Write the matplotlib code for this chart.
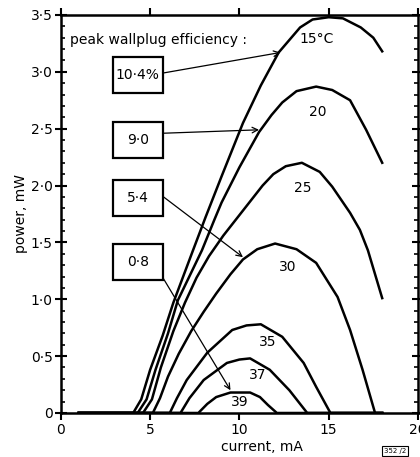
import matplotlib.pyplot as plt
from matplotlib.patches import Rectangle
from matplotlib.ticker import FixedLocator, FixedFormatter, MultipleLocator

# curves: current (mA) vs optical power (mW) at each heat-sink temperature
i15 = [1.0, 4.05, 4.5, 5.0, 5.7, 6.3, 7.4, 8.1, 9.0, 10.2, 11.2, 12.2, 13.4, 14.1, 15.0, 15.8, 16.8, 17.5, 18.0]
p15 = [0.0, 0.0, 0.12, 0.38, 0.68, 0.97, 1.43, 1.72, 2.08, 2.55, 2.88, 3.17, 3.39, 3.46, 3.48, 3.47, 3.39, 3.30, 3.18]

i20 = [1.0, 4.3, 4.8, 5.3, 6.0, 6.55, 7.9, 8.6, 9.0, 10.0, 11.1, 11.8, 12.4, 13.2, 14.3, 15.2, 16.2, 17.1, 18.0]
p20 = [0.0, 0.0, 0.12, 0.38, 0.70, 0.99, 1.43, 1.70, 1.85, 2.16, 2.47, 2.62, 2.73, 2.83, 2.87, 2.84, 2.75, 2.49, 2.20]

i25 = [1.0, 4.6, 5.1, 5.6, 6.3, 6.95, 7.6, 8.3, 9.1, 9.9, 10.6, 11.3, 11.9, 12.6, 13.5, 14.5, 15.2, 16.2, 16.75, 17.2, 18.0]
p25 = [0.0, 0.0, 0.12, 0.40, 0.72, 0.97, 1.19, 1.38, 1.56, 1.72, 1.86, 2.00, 2.10, 2.17, 2.20, 2.12, 1.99, 1.76, 1.61, 1.43, 1.01]

i30 = [1.0, 5.15, 5.55, 6.0, 6.6, 7.3, 8.0, 8.7, 9.5, 10.2, 11.0, 12.0, 13.2, 14.3, 15.5, 16.2, 16.9, 17.6, 18.0]
p30 = [0.0, 0.0, 0.13, 0.32, 0.52, 0.72, 0.89, 1.05, 1.22, 1.35, 1.44, 1.49, 1.44, 1.32, 1.02, 0.73, 0.38, 0.0, 0.0]

i35 = [1.0, 6.1, 6.5, 7.05, 8.2, 9.6, 10.4, 11.2, 12.4, 13.6, 14.3, 15.1, 18.0]
p35 = [0.0, 0.0, 0.13, 0.29, 0.53, 0.73, 0.77, 0.78, 0.67, 0.44, 0.23, 0.0, 0.0]

i37 = [1.0, 6.7, 7.2, 8.0, 9.3, 10.0, 10.6, 11.7, 12.8, 13.8, 18.0]
p37 = [0.0, 0.0, 0.13, 0.29, 0.44, 0.47, 0.48, 0.38, 0.20, 0.0, 0.0]

i39 = [1.0, 7.7, 8.2, 8.7, 9.5, 10.6, 11.15, 11.6, 12.1, 18.0]
p39 = [0.0, 0.0, 0.08, 0.14, 0.18, 0.18, 0.14, 0.07, 0.0, 0.0]

curve_labels = ["15°C", "20", "25", "30", "35", "37", "39"]
label_x = [14.3, 14.4, 13.55, 12.7, 11.6, 11.0, 10.0]
label_y = [3.29, 2.65, 1.98, 1.28, 0.62, 0.33, 0.10]

eff_labels = ["10·4%", "9·0", "5·4", "0·8"]
eff_y = [2.97, 2.40, 1.89, 1.33]
arrow_tail_y = [2.99, 2.46, 1.90, 1.18]
arrow_head_x = [12.3, 11.1, 10.2, 9.5]
arrow_head_y = [3.17, 2.49, 1.37, 0.20]

fig = plt.figure(figsize=(4.2, 4.57), dpi=100)
ax = fig.add_axes([0.145, 0.0963, 0.85, 0.871])

for xs, ys in [(i15, p15), (i20, p20), (i25, p25), (i30, p30),
               (i35, p35), (i37, p37), (i39, p39)]:
    ax.plot(xs, ys, color="black", lw=1.8, solid_joinstyle="round")

for txt, x, y in zip(curve_labels, label_x, label_y):
    ax.text(x, y, txt, fontsize=10, ha="center", va="center")

ax.text(0.5, 3.28, "peak wallplug efficiency :", fontsize=10, ha="left", va="center")

# boxes with the efficiency values, arrows to their curves
for txt, y, ty, hx, hy in zip(eff_labels, eff_y, arrow_tail_y, arrow_head_x, arrow_head_y):
    ax.add_patch(Rectangle((2.9, y - 0.158), 2.8, 0.316, fc="white", ec="black", lw=1.6, zorder=3))
    ax.text(4.3, y, txt, fontsize=10, ha="center", va="center", zorder=4)
    ax.annotate("", xy=(hx, hy), xytext=(5.75, ty),
                arrowprops=dict(arrowstyle="->", color="black", lw=0.9,
                                shrinkA=0, shrinkB=0, mutation_scale=10))

ax.set_xlim(0, 20)
ax.set_ylim(0, 3.5)

ax.xaxis.set_major_locator(FixedLocator([0, 5, 10, 15, 20]))
ax.xaxis.set_major_formatter(FixedFormatter(["0", "5", "10", "15", "20"]))
ax.yaxis.set_major_locator(FixedLocator([0, 0.5, 1.0, 1.5, 2.0, 2.5, 3.0, 3.5]))
ax.yaxis.set_major_formatter(FixedFormatter(["0", "0·5", "1·0", "1·5", "2·0", "2·5", "3·0", "3·5"]))
ax.yaxis.set_minor_locator(MultipleLocator(0.1))

ax.tick_params(axis="x", which="major", direction="out", length=5, width=1.5,
               top=True, labelsize=10, pad=2)
ax.tick_params(axis="y", which="major", direction="inout", length=8, width=1.5,
               right=True, labelsize=10, pad=2)
ax.tick_params(axis="y", which="minor", direction="in", length=3, width=1.2, right=True)

for s in ax.spines.values():
    s.set_linewidth(1.8)

ax.set_ylabel("power, mW", fontsize=10, labelpad=2)
ax.set_xlabel("current, mA", fontsize=10)
ax.xaxis.set_label_coords(0.563, -0.068)

fig.text(0.94, 0.013, "352 /2", fontsize=5, ha="center", va="center",
         bbox=dict(boxstyle="square,pad=0.3", fc="white", ec="black", lw=0.8))

fig.savefig("out.png", dpi=100)
